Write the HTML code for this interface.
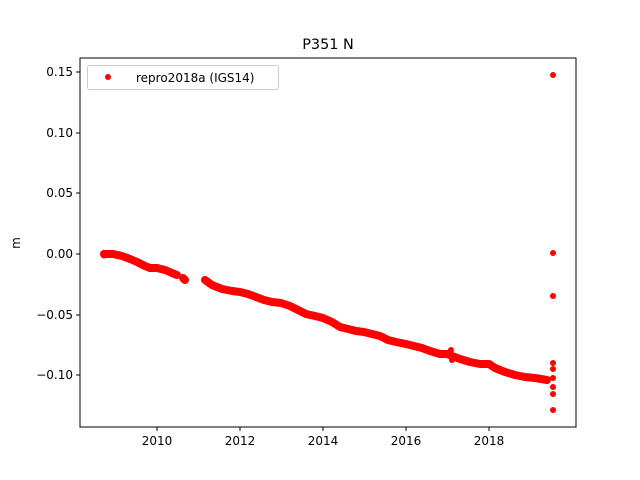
<!DOCTYPE html>
<html><head><style>body{margin:0;background:#fff}svg{display:block}text{font-family:"DejaVu Sans","Liberation Sans",sans-serif}</style></head>
<body>
<svg width="640" height="480" viewBox="0 0 640 480" xmlns="http://www.w3.org/2000/svg">
<rect width="640" height="480" fill="#fff"/>
<text x="328" y="49" font-size="14.4" text-anchor="middle">P351 N</text>
<g stroke="#f00" stroke-width="8" stroke-linecap="round" stroke-linejoin="round" fill="none">
<polyline points="104,254 113,254 122,256 130,259 137,262 145,266 150,268 157,268 165,270 172,273 177,275"/>
<polyline points="183,278 185,280"/>
<polyline points="205,280 212,285 222,289 232,291 240,292 248,294 256,297 264,300 272,302 281,303 290,306 298,310 306,314 315,316 323,318 332,322 340,327 348,329 356,331 364,332 372,334 380,336 388,340 396,342 406,344 414,346 422,348 430,351 440,354 447,354 452,356 460,359 470,362 480,364 489,364 495,368 505,372 515,375 525,377 535,378 547,380"/>
</g>
<g fill="#f00">
<circle cx="553" cy="75" r="3"/><circle cx="553" cy="253" r="3"/><circle cx="553" cy="296" r="3"/>
<circle cx="553" cy="363" r="3"/><circle cx="553" cy="369" r="3"/><circle cx="553" cy="378" r="3"/>
<circle cx="553" cy="387" r="3"/><circle cx="553" cy="394" r="3"/><circle cx="553" cy="410" r="3"/>
<circle cx="104" cy="255" r="3.5"/><circle cx="129" cy="259" r="3.5"/><circle cx="451" cy="350" r="3"/><circle cx="452" cy="360" r="3"/>
</g>
<rect x="80" y="58" width="496" height="369" fill="none" stroke="#000" stroke-width="1"/>
<g stroke="#000" stroke-width="1">
<line x1="157" y1="427" x2="157" y2="431"/><line x1="240" y1="427" x2="240" y2="431"/>
<line x1="323" y1="427" x2="323" y2="431"/><line x1="406" y1="427" x2="406" y2="431"/>
<line x1="489" y1="427" x2="489" y2="431"/>
<line x1="76" y1="72" x2="80" y2="72"/><line x1="76" y1="133" x2="80" y2="133"/>
<line x1="76" y1="193" x2="80" y2="193"/><line x1="76" y1="254" x2="80" y2="254"/>
<line x1="76" y1="315" x2="80" y2="315"/><line x1="76" y1="375" x2="80" y2="375"/>
</g>
<g font-size="12" text-anchor="middle">
<text x="157" y="445">2010</text><text x="240" y="445">2012</text><text x="323" y="445">2014</text>
<text x="406" y="445">2016</text><text x="489" y="445">2018</text>
</g>
<g font-size="12" text-anchor="end">
<text x="73" y="76">0.15</text><text x="73" y="137">0.10</text><text x="73" y="197">0.05</text>
<text x="73" y="258">0.00</text><text x="73" y="319">−0.05</text><text x="73" y="379">−0.10</text>
</g>
<text transform="translate(20,243) rotate(-90)" font-size="12" text-anchor="middle">m</text>
<rect x="87.5" y="65.5" width="191" height="24" rx="2" fill="#fff" stroke="#ccc"/>
<circle cx="108" cy="77" r="3" fill="#f00"/>
<text x="136" y="82" font-size="12">repro2018a (IGS14)</text>
</svg>
</body></html>
